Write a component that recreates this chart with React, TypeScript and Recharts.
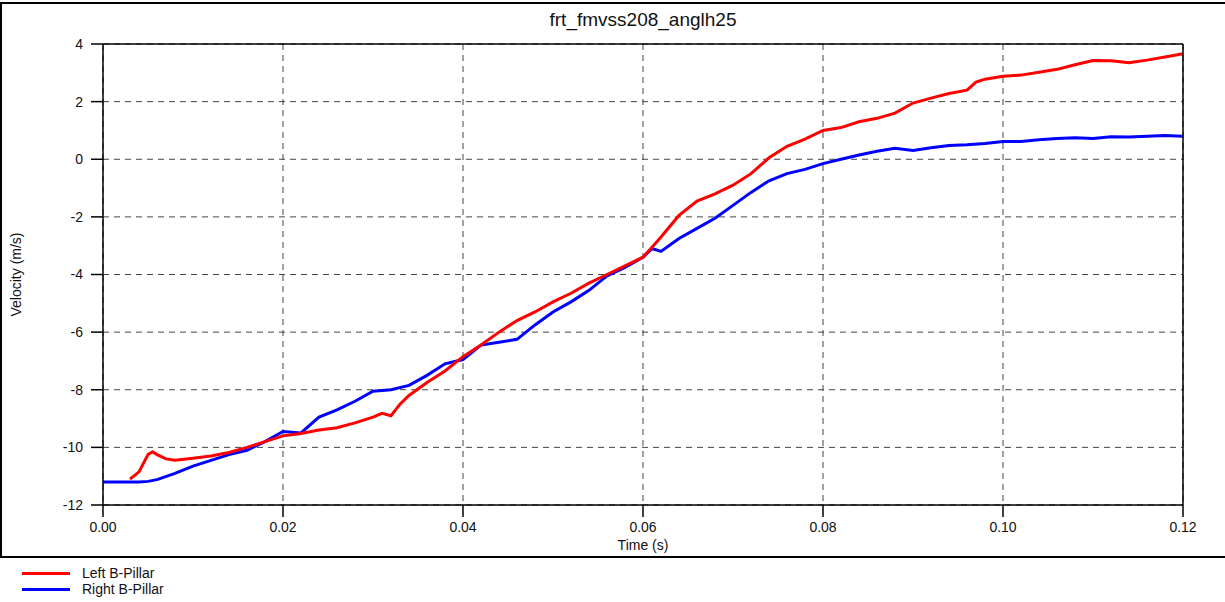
// Velocity vs time for the left and right B-pillars (frt_fmvss208_anglh25)
import { CartesianGrid, Legend, Line, LineChart, XAxis, YAxis } from "recharts";

const title = "frt_fmvss208_anglh25";
const xTicks = [0, 0.02, 0.04, 0.06, 0.08, 0.1, 0.12];
const yTicks = [-12, -10, -8, -6, -4, -2, 0, 2, 4];

const leftTime = [
  0.003, 0.004, 0.005, 0.0055, 0.006, 0.007, 0.008, 0.01, 0.012, 0.014, 0.016, 0.018, 0.02, 0.022,
  0.024, 0.026, 0.028, 0.03, 0.031, 0.032, 0.033, 0.034, 0.036, 0.038, 0.04, 0.042, 0.044, 0.046,
  0.048, 0.05, 0.052, 0.054, 0.056, 0.058, 0.06, 0.061, 0.062, 0.064, 0.066, 0.068, 0.07, 0.072,
  0.074, 0.076, 0.078, 0.08, 0.082, 0.084, 0.086, 0.088, 0.09, 0.092, 0.094, 0.096, 0.097, 0.098,
  0.1, 0.102, 0.104, 0.106, 0.108, 0.11, 0.112, 0.114, 0.116, 0.118, 0.12,
];
const leftVelocity = [
  -11.1, -10.85, -10.25, -10.15, -10.25, -10.4, -10.45, -10.38, -10.3, -10.18, -10.0, -9.8, -9.6,
  -9.52, -9.4, -9.32, -9.15, -8.95, -8.82, -8.9, -8.5, -8.2, -7.75, -7.35, -6.85, -6.45, -6.0,
  -5.6, -5.3, -4.95, -4.65, -4.3, -4.0, -3.7, -3.4, -3.05, -2.7, -1.95, -1.45, -1.2, -0.9, -0.5,
  0.05, 0.45, 0.7, 1.0, 1.1, 1.3, 1.42, 1.6, 1.95, 2.12, 2.28, 2.4, 2.68, 2.78, 2.88, 2.92, 3.02,
  3.12, 3.28, 3.43, 3.42, 3.35, 3.44, 3.55, 3.66,
];

const rightTime = [
  0, 0.002, 0.004, 0.005, 0.006, 0.008, 0.01, 0.012, 0.014, 0.016, 0.018, 0.02, 0.022, 0.024,
  0.026, 0.028, 0.03, 0.032, 0.034, 0.036, 0.038, 0.04, 0.042, 0.044, 0.046, 0.048, 0.05, 0.052,
  0.054, 0.056, 0.058, 0.06, 0.061, 0.062, 0.064, 0.066, 0.068, 0.07, 0.072, 0.074, 0.076, 0.078,
  0.08, 0.082, 0.084, 0.086, 0.088, 0.09, 0.092, 0.094, 0.096, 0.098, 0.1, 0.102, 0.104, 0.106,
  0.108, 0.11, 0.112, 0.114, 0.116, 0.118, 0.12,
];
const rightVelocity = [
  -11.2, -11.2, -11.2, -11.18, -11.12, -10.9, -10.65, -10.45, -10.25, -10.1, -9.8, -9.45, -9.5,
  -8.95, -8.7, -8.4, -8.05, -8.0, -7.85, -7.5, -7.1, -6.95, -6.45, -6.35, -6.25, -5.75, -5.3,
  -4.95, -4.55, -4.05, -3.75, -3.4, -3.1, -3.2, -2.75, -2.4, -2.05, -1.6, -1.15, -0.75, -0.5,
  -0.35, -0.15, 0.0, 0.15, 0.28, 0.38, 0.3, 0.4, 0.48, 0.5, 0.55, 0.62, 0.62, 0.68, 0.72, 0.75,
  0.72, 0.78, 0.77, 0.8, 0.82, 0.8,
];

const leftData = leftTime.map((t, i) => ({ t, v: leftVelocity[i] }));
const rightData = rightTime.map((t, i) => ({ t, v: rightVelocity[i] }));

const font = "'Liberation Sans', Arial, sans-serif";
const tickStyle = { fontSize: 14, fill: "#111", fontFamily: font };
const blank = () => "";

function LegendBox() {
  const rows = [
    { name: "Left B-Pillar", color: "#ff0000" },
    { name: "Right B-Pillar", color: "#0000ff" },
  ];
  return (
    <div style={{ height: 44, boxSizing: "border-box", paddingTop: 7, paddingLeft: 22, fontFamily: font, fontSize: 14 }}>
      {rows.map((r) => (
        <div key={r.name} style={{ display: "flex", alignItems: "center", height: 16 }}>
          <div style={{ width: 48, height: 3, background: r.color, marginRight: 12 }} />
          <span style={{ color: "#111" }}>{r.name}</span>
        </div>
      ))}
    </div>
  );
}

export default function App() {
  return (
    <div style={{ position: "absolute", left: 0, top: 0, width: 1225, height: 602, background: "#fff", overflow: "hidden", fontFamily: font }}>
      <div style={{ position: "absolute", left: 0, top: 2, width: 1240, height: 556, border: "2px solid #000", boxSizing: "border-box" }} />
      <div style={{ position: "absolute", left: 103, top: 9, width: 1080, textAlign: "center", fontSize: 19, lineHeight: "22px", color: "#111" }}>
        {title}
      </div>
      <LineChart width={1225} height={602} margin={{ top: 33, right: 12, bottom: 0, left: 0 }}>
        <CartesianGrid
          xAxisId="bottom"
          yAxisId="left"
          strokeDasharray="6 5"
          stroke="#444"
          verticalValues={xTicks}
          horizontalValues={yTicks}
        />
        <XAxis
          xAxisId="bottom"
          dataKey="t"
          type="number"
          domain={[0, 0.12]}
          ticks={xTicks}
          allowDuplicatedCategory={false}
          tickFormatter={(v: number) => v.toFixed(2)}
          tick={tickStyle}
          tickSize={12}
          tickMargin={5}
          height={53}
          stroke="#000"
          strokeWidth={1.5}
          label={{ value: "Time (s)", position: "insideBottom", offset: 8, fontSize: 14, fill: "#111", fontFamily: font }}
        />
        <XAxis
          xAxisId="top"
          orientation="top"
          dataKey="t"
          type="number"
          domain={[0, 0.12]}
          ticks={xTicks}
          tickFormatter={blank}
          tickSize={11}
          height={11}
          stroke="#000"
          strokeWidth={1.5}
        />
        <YAxis
          yAxisId="left"
          domain={[-12, 4]}
          ticks={yTicks}
          tick={tickStyle}
          tickSize={12}
          tickMargin={8}
          width={103}
          stroke="#000"
          strokeWidth={1.5}
          label={{ value: "Velocity (m/s)", angle: -90, position: "insideLeft", offset: 16, fontSize: 14, fill: "#111", fontFamily: font, style: { textAnchor: "middle" } }}
        />
        <YAxis
          yAxisId="right"
          orientation="right"
          domain={[-12, 4]}
          ticks={yTicks}
          tickFormatter={blank}
          tickSize={12}
          width={30}
          stroke="#000"
          strokeWidth={1.5}
        />
        <Legend verticalAlign="bottom" align="left" content={<LegendBox />} />
        <Line
          xAxisId="bottom"
          yAxisId="left"
          data={rightData}
          dataKey="v"
          name="Right B-Pillar"
          type="linear"
          stroke="#0000ff"
          strokeWidth={3}
          dot={false}
          isAnimationActive={false}
        />
        <Line
          xAxisId="bottom"
          yAxisId="left"
          data={leftData}
          dataKey="v"
          name="Left B-Pillar"
          type="linear"
          stroke="#ff0000"
          strokeWidth={3}
          dot={false}
          isAnimationActive={false}
        />
      </LineChart>
    </div>
  );
}
